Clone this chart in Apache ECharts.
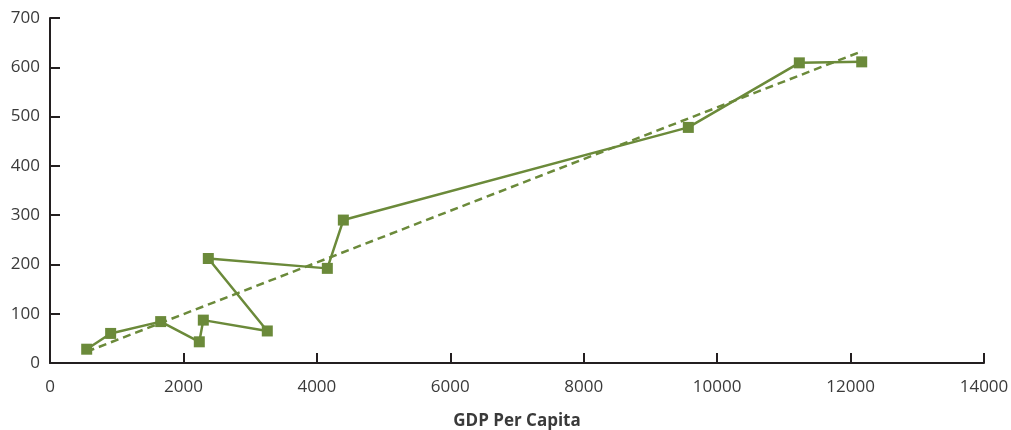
<!DOCTYPE html>
<html>
<head>
<meta charset="utf-8">
<script src="https://cdn.jsdelivr.net/npm/echarts@6/dist/echarts.min.js"></script>
<style>html,body{margin:0;padding:0;background:#fff}#c{width:1011px;height:430px}</style>
</head>
<body>
<div id="c"></div>
<script>
// Data
var gdpPerCapita = [550, 909, 1659, 2238, 2298, 3257, 2373, 4157, 4397, 9568, 11232, 12167];
var values       = [28, 60, 84, 43, 87, 65, 212, 192, 290, 478, 609, 611];
var trendX = [550, 12180];
var trendY = [23, 633];
var xAxisName = 'GDP Per Capita';

var green = '#6b8a3a';
var axisColor = '#231f20';
var textColor = '#3a3a3a';
var font = 'Open Sans';

var points = gdpPerCapita.map(function (x, i) { return [x, values[i]]; });
var trend = trendX.map(function (x, i) { return [x, trendY[i]]; });

var chart = echarts.init(document.getElementById('c'), null, {renderer: 'canvas'});
chart.setOption({
  animation: false,
  backgroundColor: '#fff',
  grid: {left: 50, right: 27, top: 18, bottom: 67, containLabel: false, outerBoundsMode: 'none'},
  xAxis: {
    type: 'value', min: 0, max: 14000, interval: 2000,
    name: xAxisName, nameLocation: 'middle', nameGap: 50,
    nameTextStyle: {fontFamily: font, fontSize: 17, fontWeight: 'bold', color: textColor},
    axisLine: {show: true, onZero: false, lineStyle: {color: axisColor, width: 2}},
    axisTick: {show: true, inside: true, length: 10, lineStyle: {color: axisColor, width: 2}},
    axisLabel: {fontFamily: font, fontSize: 17, color: textColor, margin: 16,
      formatter: function (v) { return String(v); }},
    splitLine: {show: false}
  },
  yAxis: {
    type: 'value', min: 0, max: 700, interval: 100,
    axisLine: {show: true, onZero: false, lineStyle: {color: axisColor, width: 2}},
    axisTick: {show: true, inside: true, length: 10, lineStyle: {color: axisColor, width: 2}},
    axisLabel: {fontFamily: font, fontSize: 17, color: textColor, margin: 10,
      formatter: function (v) { return String(v); }},
    splitLine: {show: false}
  },
  series: [
    {
      type: 'line', data: trend, symbol: 'none', silent: true,
      lineStyle: {color: green, width: 2.5, type: [8, 5]}
    },
    {
      type: 'line', data: points, symbol: 'rect', symbolSize: 11,
      itemStyle: {color: green}, lineStyle: {color: green, width: 2.5}
    }
  ]
});
</script>
</body>
</html>
